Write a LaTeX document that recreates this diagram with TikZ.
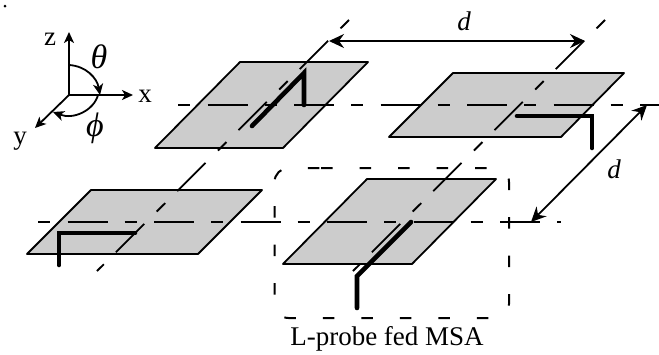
\documentclass[tikz,border=0pt]{standalone}
\usepackage{fontspec}
\setmainfont{Liberation Serif}
\usetikzlibrary{arrows.meta}

\tikzset{
	patch/.style={draw, fill=black!20, line width=1.8pt, line join=round},
	probe/.style={line width=4.6pt, line cap=round},
	axisline/.style={line width=1.8pt, dash pattern=on 40pt off 17pt on 12pt off 17.5pt, dash phase=57pt},
	msabox/.style={line width=2pt, rounded corners=14pt, dash pattern=on 11.5pt off 27pt},
	darrow/.style={line width=1.8pt, {Stealth[length=15pt,width=14pt,inset=5pt]}-{Stealth[length=15pt,width=14pt,inset=5pt]}},
	axis/.style={line width=1.8pt, -{Stealth[length=11pt,width=10pt,inset=3pt]}},
	lbl/.style={inner sep=0pt, font=\fontsize{27}{30}\selectfont}
}

\begin{document}
\begin{tikzpicture}
				[x=1pt, y=-1pt]
				\useasboundingbox (0,0) rectangle (659,354);
				\fill (5,6) circle (1.5pt);
				% patches
				\draw[patch] (240,62) -- (368,62) -- (283,148) -- (155,148) -- cycle;
				\draw[patch] (453,73) -- (624,73) -- (561,137) -- (389,137) -- cycle;
				\draw[patch] (91,190) -- (262,190) -- (198,254) -- (27,254) -- cycle;
				\draw[patch] (367,179) -- (496,179) -- (412,264) -- (283,264) -- cycle;
				% array lines
				\draw[axisline] (178,105) -- (659,105);
				\draw[axisline] (38,222) -- (561,222);
				\draw[axisline] (349,20) -- (97,271);
				\draw[axisline] (605,20) -- (353,271);
				% feeds
				\draw[probe] (252,126) -- (304,73) -- (304,105);
				\draw[probe] (517,116) -- (592,116) -- (592,148);
				\draw[probe] (135,233) -- (59,233) -- (59,265);
				\draw[probe] (411,222) -- (357,276) -- (357,308);
				\draw[msabox] (307,168) -| (509,318) -| (274.5,168) -- cycle;
				% spacing
				\coordinate (dxl) at (329,41);
				\coordinate (dxr) at (585,41);
				\coordinate (dyt) at (647,105);
				\coordinate (dyb) at (531,222);
				\draw[darrow] (dxl) -- (dxr);
				\draw[darrow] (dyt) -- (dyb);
				\node[lbl] (dxlabel) at (464,21) {\itshape d};
				\node[lbl] (dylabel) at (614,169) {\itshape d};
				% coordinate system
				\coordinate (o) at (69,95);
				\coordinate (zt) at (69,32);
				\coordinate (xt) at (133,95);
				\coordinate (yt) at (35,128);
				\draw[axis] (o) -- (zt);
				\draw[axis] (o) -- (xt);
				\draw[axis] (o) -- (yt);
				\draw[axis] (69,65) .. controls (86,66) and (97,78) .. (100,95);
				\draw[axis] (98,95) .. controls (94,110) and (74,120) .. (53,112);
				\node[lbl] (zlabel) at (50,39) {z};
				\node[lbl] (xlabel) at (145,96) {x};
				\node[lbl] (ylabel) at (20,141) {y};
				\node[lbl, font=\fontsize{34}{36}\selectfont\itshape] (thetalabel) at (99,57) {θ};
				\node[lbl, font=\fontsize{34}{36}\selectfont\itshape] (philabel) at (95,128) {ϕ};
				\node[lbl] (msalabel) at (387,339) {L-probe fed MSA};
			\end{tikzpicture}
\end{document}
